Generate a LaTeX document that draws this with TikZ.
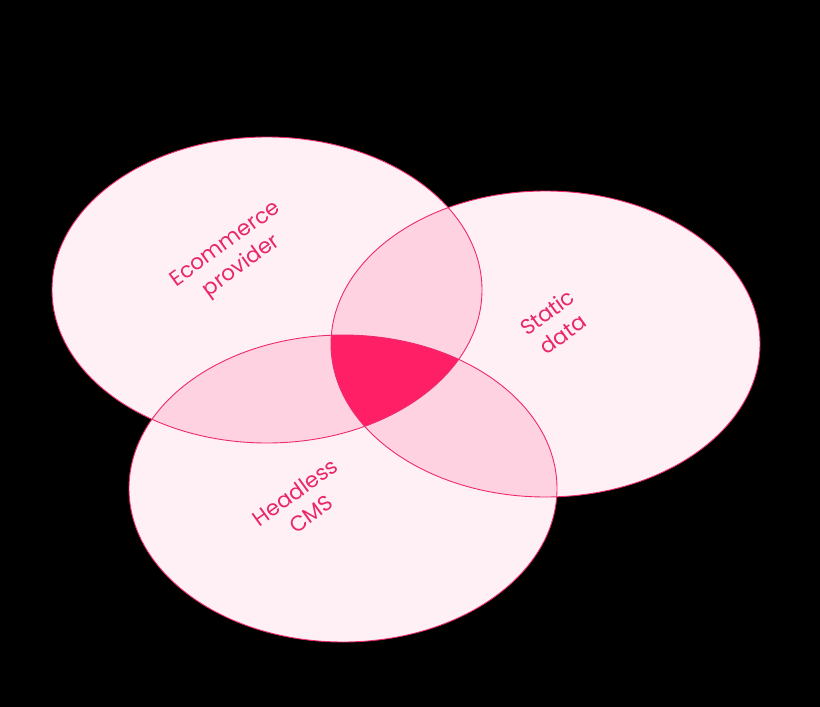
\documentclass[tikz,border=0pt]{standalone}
\usepackage{fontspec}
\setmainfont{Poppins}
\definecolor{rim}{HTML}{EE2A6E}
\definecolor{soft}{HTML}{FFF0F5}
\definecolor{mid}{HTML}{FFD2E1}
\definecolor{core}{HTML}{FF1F67}
\definecolor{ink}{HTML}{E8286A}

\begin{document}
\begin{tikzpicture}[x=1pt,y=-1pt,
    lbl/.style={text=ink, font=\fontsize{21.5}{27}\selectfont, align=center, rotate=36}]
    \fill[black] (0,0) rectangle (820,707);

    \def\ecom{(267,290) ellipse [x radius=215pt, y radius=153pt]}
    \def\stat{(545.5,344) ellipse [x radius=214.5pt, y radius=153pt]}
    \def\cms{(343,488.5) ellipse [x radius=214pt, y radius=153.5pt]}

    \fill[soft] \ecom;
    \fill[soft] \stat;
    \fill[soft] \cms;

    % pairwise overlaps
    \begin{scope}
        \clip \ecom;
        \fill[mid] \stat;
        \fill[mid] \cms;
    \end{scope}
    \begin{scope}
        \clip \stat;
        \fill[mid] \cms;
    \end{scope}

    % all three
    \begin{scope}
        \clip \ecom;
        \clip \stat;
        \fill[core] \cms;
    \end{scope}

    \draw[rim, line width=0.9pt] \ecom;
    \draw[rim, line width=0.9pt] \stat;
    \draw[rim, line width=0.9pt] \cms;

    \node[lbl] (ecomlabel) at (234,256) {Ecommerce\\provider};
    \node[lbl] (statlabel) at (555,323) {Static\\data};
    \node[lbl] (cmslabel) at (303,503) {Headless\\CMS};
\end{tikzpicture}
\end{document}
